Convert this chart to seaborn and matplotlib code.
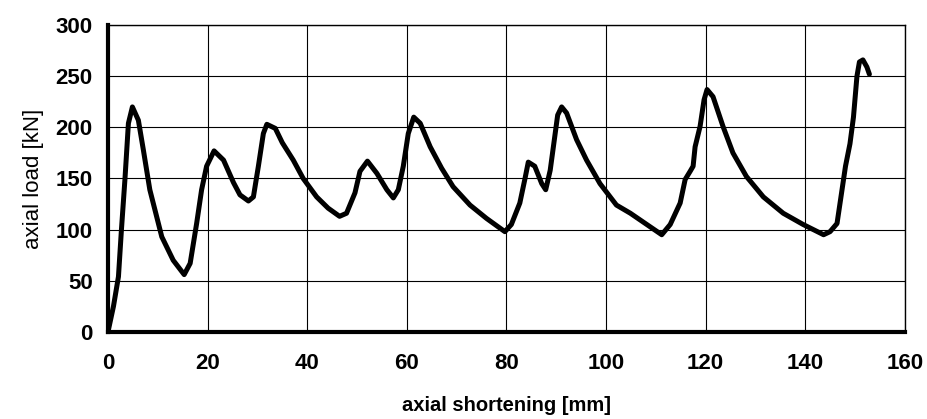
import matplotlib
matplotlib.use("Agg")
import matplotlib.pyplot as plt
import numpy as np
import pandas as pd
import seaborn as sns

# axial shortening [mm] vs axial load [kN]
shortening = [0, 1.1, 2.1, 2.7, 3.4, 4.1, 4.9, 6.1, 7.1, 8.4, 10.8, 13.1, 15.3, 16.5,
              17.8, 18.8, 19.8, 21.3, 23.2, 25.2, 26.5, 28.2, 29.2, 30.2, 31.2, 31.9,
              33.6, 35.0, 37.2, 39.2, 41.9, 44.2, 46.5, 47.9, 49.6, 50.6, 52.1, 54.0,
              56.0, 57.3, 58.3, 59.3, 60.3, 61.4, 62.7, 64.7, 67.0, 69.3, 72.7, 76.0,
              79.7, 81.0, 82.7, 83.7, 84.4, 85.7, 87.1, 87.9, 88.8, 89.8, 90.3, 91.1,
              92.1, 94.1, 96.1, 98.8, 102.1, 104.9, 107.9, 111.2, 112.9, 114.9, 115.9,
              116.9, 117.5, 117.9, 118.9, 119.7, 120.3, 121.5, 123.5, 125.5, 128.2,
              131.6, 135.6, 139.6, 143.7, 145.0, 146.4, 147.1, 148.1, 149.0, 149.7,
              150.4, 150.9, 151.6, 152.4, 152.9]
load = [0, 25, 54, 100, 149, 204, 220, 207, 178, 139, 93, 70, 56, 67,
        106, 139, 162, 177, 168, 146, 134, 128, 132, 162, 194, 203,
        199, 185, 168, 150, 132, 121, 113, 116, 136, 157, 167, 155,
        139, 131, 139, 162, 194, 210, 204, 181, 160, 142, 124, 111,
        98, 105, 126, 149, 166, 162, 145, 139, 158, 194, 212, 220,
        214, 188, 168, 145, 124, 116, 106, 95, 105, 126, 149,
        157, 162, 181, 201, 227, 237, 230, 201, 175, 152,
        132, 116, 105, 95, 98, 106, 129, 162, 184, 210,
        250, 264, 266, 259, 252]

x_ticks = [0, 20, 40, 60, 80, 100, 120, 140, 160]
y_ticks = [0, 50, 100, 150, 200, 250, 300]

sns.set_theme(style="white")
plt.rcParams["font.family"] = ["Liberation Sans", "DejaVu Sans"]
plt.rcParams.update({"text.color": "black", "axes.labelcolor": "black",
                     "xtick.color": "black", "ytick.color": "black"})

df = pd.DataFrame({"shortening": shortening, "load": load})

fig = plt.figure(figsize=(9.27, 4.19), dpi=100)
ax = fig.add_axes([0.1165, 0.208, 0.8595, 0.732])
sns.lineplot(data=df, x="shortening", y="load", sort=False, color="black",
             linewidth=3.6, ax=ax, solid_joinstyle="round", solid_capstyle="round")

ax.set_xlim(0, 160)
ax.set_ylim(0, 300)
ax.set_xticks(x_ticks)
ax.set_yticks(y_ticks)
ax.grid(True, color="black", linewidth=0.8)
ax.set_axisbelow(True)

for side in ["left", "bottom"]:
    ax.spines[side].set_linewidth(3)
    ax.spines[side].set_color("black")
for side in ["top", "right"]:
    ax.spines[side].set_linewidth(1)
    ax.spines[side].set_color("black")

ax.tick_params(axis="both", direction="inout", length=12, width=3, color="black",
               labelsize=16, labelcolor="black")
ax.tick_params(axis="x", pad=9)
ax.tick_params(axis="y", pad=5)
for lab in ax.get_xticklabels() + ax.get_yticklabels():
    lab.set_fontweight("bold")

ax.set_xlabel("axial shortening [mm]", fontsize=14.5, fontweight="bold", labelpad=16)
ax.set_ylabel("axial load [kN]", fontsize=16, labelpad=8)

fig.savefig("out.png", dpi=100)
